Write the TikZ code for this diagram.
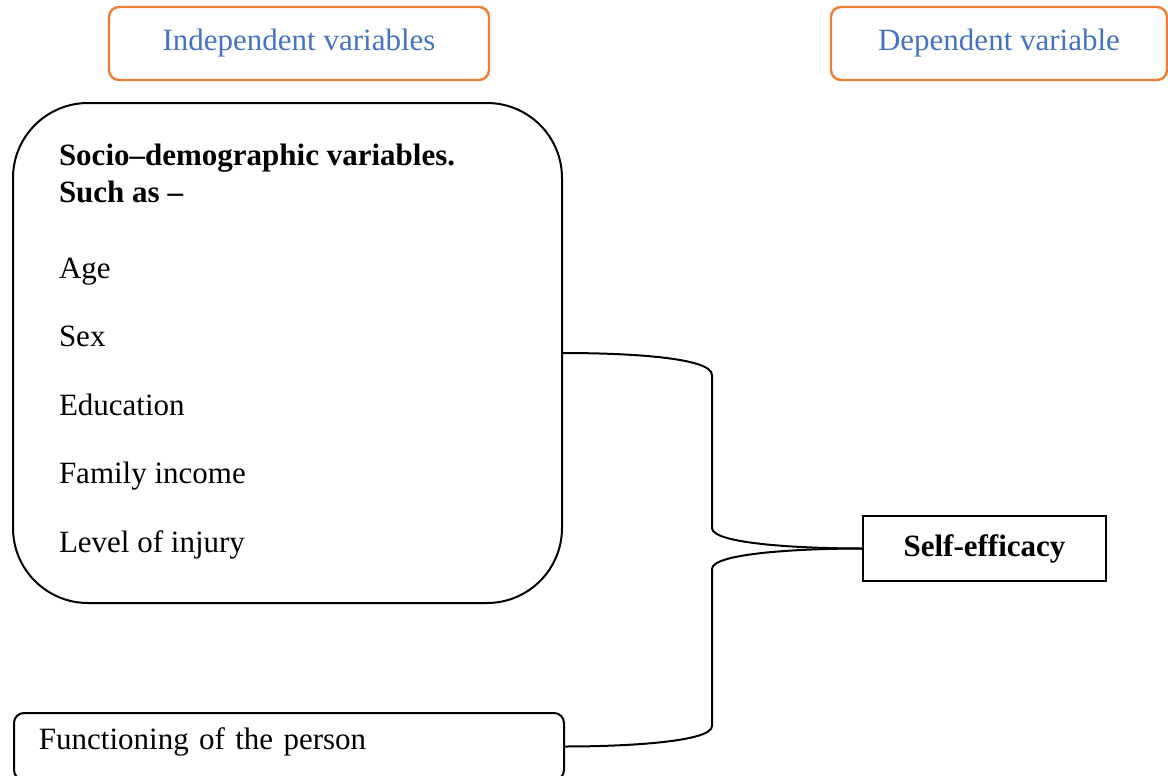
\documentclass[tikz,border=0pt]{standalone}
\usepackage{fontspec}
\setmainfont{Liberation Serif}
\usetikzlibrary{positioning}
\usetikzlibrary{calc}
\definecolor{fw-orange}{HTML}{ED7D31}
\definecolor{fw-blue}{HTML}{4472C4}

\begin{document}
\begin{tikzpicture}[
    x=0.5pt, y=-0.5pt, % one unit per pixel of the layout
    font=\fontsize{15.5}{18}\selectfont,
    line width=1pt
  ]

  % Styles for the framework boxes
  \tikzset{
    heading/.style={draw=fw-orange, line width=1.2pt, rounded corners=5pt, text=fw-blue, minimum height=36.5pt},
    varbox/.style={draw, rounded corners=37.5pt, minimum width=274.5pt, minimum height=250pt},
    vartext/.style={anchor=base west, inner sep=0pt},
    outcome/.style={draw, line width=1.2pt, minimum width=121.5pt, minimum height=32.5pt, font=\fontsize{15.5}{18}\selectfont\bfseries},
    link/.style={draw, line width=1pt}
  }

  \useasboundingbox (0,0) rectangle (1168,776);

  % Column headings
  \node (indep) [heading, minimum width=190pt] at (299,43.5) {Independent variables};
  \node (dep) [heading, minimum width=168pt] at (999,43.5) {Dependent variable};

  % Socio-demographic block
  \node (socio) [varbox] at (287.5,353) {};
  \node (head1) [vartext, font=\fontsize{15.5}{18}\selectfont\bfseries] at (58,165) {Socio--demographic variables.};
  \node (head2) [vartext, font=\fontsize{15.5}{18}\selectfont\bfseries] at (58,202) {Such as --};
  \foreach \yy/\txt [count=\i] in {278/Age, 346/Sex, 415/Education, 483/Family income, 552/Level of injury}
    \node (item\i) [vartext] at (58,\yy) {\txt};

  % Functioning block
  \node (func) [draw, rounded corners=5pt, anchor=north west, inner xsep=12.5pt, text width=250pt, align=left,
    minimum height=33.5pt, text height=10.6pt, text depth=8.1pt] at (13,712) {Functioning of the person};

  % Outcome
  \node (self) [outcome] at (984.5,548.5) {Self-efficacy};

  % Bracket joining both blocks to the outcome
  \coordinate (spine) at (712,548.5);
  \draw[link] (socio.east) .. controls +(60,0) and +(0,-18) .. (spine |- 0,375)
    -- (spine |- 0,528) .. controls +(0,16) and +(-60,0) .. (self.west);
  \draw[link] (self.west) .. controls +(-60,0) and +(0,-16) .. (spine |- 0,569)
    -- (spine |- 0,726) .. controls +(0,16) and +(60,0) .. (func.east);

\end{tikzpicture}
\end{document}
